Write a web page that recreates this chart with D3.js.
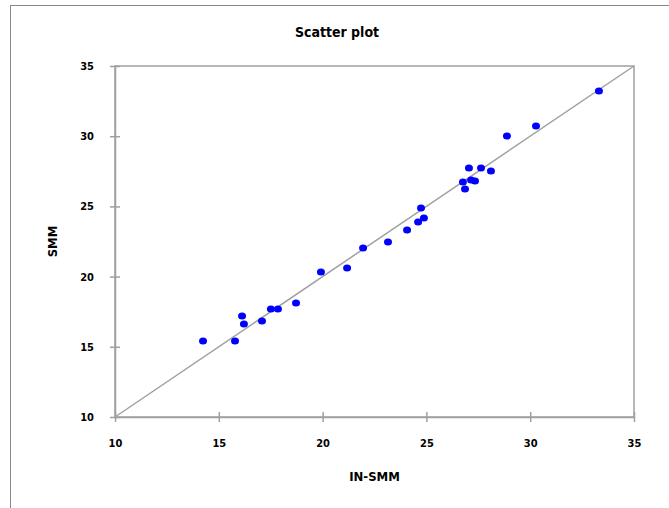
<!DOCTYPE html>
<html>
<head>
<meta charset="utf-8">
<script src="https://cdn.jsdelivr.net/npm/d3@7"></script>
<style>
    body { margin: 0; background: #fff; }
    text { font-family: "DejaVu Sans Condensed", "DejaVu Sans", sans-serif; fill: #000; }
</style>
</head>
<body>
<div id="draw_here"></div>
<script type="text/javascript">
    // data
    in_smm = [14.24, 15.78, 16.12, 16.21, 17.08, 17.51, 17.85, 18.72, 19.92, 21.18,
              21.95, 23.15, 24.07, 24.60, 24.74, 24.88, 26.76, 26.86, 27.05, 27.15,
              27.34, 27.63, 28.11, 28.88, 30.28, 33.31]
    smm    = [15.41, 15.41, 17.19, 16.62, 16.84, 17.69, 17.69, 18.12, 20.33, 20.61,
              22.04, 22.46, 23.32, 23.89, 24.89, 24.17, 26.74, 26.24, 27.74, 26.88,
              26.81, 27.74, 27.52, 30.01, 30.73, 33.22]
    ticks = [10, 15, 20, 25, 30, 35]
    lim = [10, 35]

    canvas = ({width: 669, height: 508})
    margin = ({top: 66, right: 35, bottom: 91, left: 115})
    grey = "#a0a0a0"
    blue = "#0000ff"

    x = d3.scaleLinear()
        .domain(lim)
        .range([margin.left, canvas.width - margin.right])

    y = d3.scaleLinear()
        .domain(lim)
        .range([canvas.height - margin.bottom, margin.top])

    var svg = d3.select("div#draw_here").append("svg")
        .attr("width", canvas.width)
        .attr("height", canvas.height)

    // outer chart frame
    svg.append("rect")
        .attr("x", 10.5).attr("y", 5.5)
        .attr("width", 700).attr("height", 600)
        .attr("fill", "#fff")
        .attr("stroke", "#888")
        .attr("stroke-width", 1)

    // plot area frame
    svg.append("rect")
        .attr("x", x(lim[0])).attr("y", y(lim[1]))
        .attr("width", x(lim[1]) - x(lim[0]))
        .attr("height", y(lim[0]) - y(lim[1]))
        .attr("fill", "none")
        .attr("stroke", grey)
        .attr("stroke-width", 1.5)

    // y = x reference line
    line = d3.line()
        .x(d => x(d[0]))
        .y(d => y(d[1]))

    svg.append("path")
        .attr("fill", "none")
        .attr("stroke", grey)
        .attr("stroke-width", 1.5)
        .attr("d", line([[lim[0], lim[0]], [lim[1], lim[1]]]))

    xAxis = g => g
        .attr("transform", `translate(0,${y(lim[0])})`)
        .call(d3.axisBottom(x).tickValues(ticks).tickSize(5).tickSizeOuter(0).tickPadding(17))
        .call(g => g.selectAll(".tick line").attr("y1", -5))

    yAxis = g => g
        .attr("transform", `translate(${x(lim[0])},0)`)
        .call(d3.axisLeft(y).tickValues(ticks).tickSize(5).tickSizeOuter(0).tickPadding(16))
        .call(g => g.selectAll(".tick line").attr("x1", 5))

    for (const ax of [xAxis, yAxis]) {
        svg.append("g")
            .call(ax)
            .call(g => g.select(".domain").attr("stroke", grey).attr("stroke-width", 1.5))
            .call(g => g.selectAll(".tick line").attr("stroke", grey).attr("stroke-width", 1.5))
            .call(g => g.selectAll(".tick text")
                .attr("font-size", 11)
                .attr("font-weight", "bold")
                .attr("font-family", "'DejaVu Sans Condensed', 'DejaVu Sans', sans-serif"))
    }

    // points
    svg.append("g")
        .selectAll("ellipse")
        .data(d3.zip(in_smm, smm))
        .join("ellipse")
        .attr("cx", d => x(d[0]))
        .attr("cy", d => y(d[1]))
        .attr("rx", 4)
        .attr("ry", 3.5)
        .attr("fill", blue)

    // titles
    svg.append("text")
        .attr("x", 337).attr("y", 37)
        .attr("text-anchor", "middle")
        .attr("font-size", 14)
        .attr("font-weight", "bold")
        .text("Scatter plot")

    svg.append("text")
        .attr("x", (x(lim[0]) + x(lim[1])) / 2).attr("y", 481)
        .attr("text-anchor", "middle")
        .attr("font-size", 13)
        .attr("font-weight", "bold")
        .text("IN-SMM")

    svg.append("text")
        .attr("transform", `translate(57,${(y(lim[0]) + y(lim[1])) / 2}) rotate(-90)`)
        .attr("text-anchor", "middle")
        .attr("font-size", 13)
        .attr("font-weight", "bold")
        .text("SMM")
</script>
</body>
</html>
